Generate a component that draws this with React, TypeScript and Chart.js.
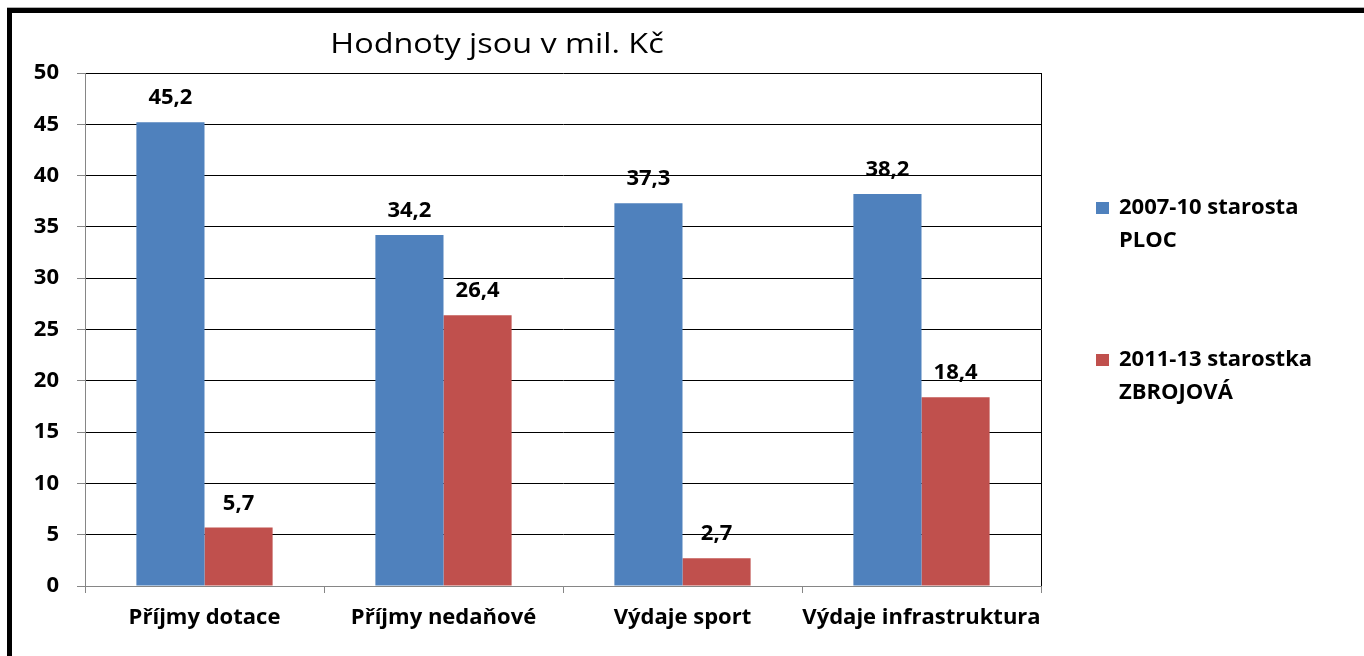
import { useEffect, useRef } from "react";
import { Chart, registerables } from "chart.js";

Chart.register(...registerables);

const titleText = "Hodnoty jsou v mil. Kč";
const categories = ["Příjmy dotace", "Příjmy nedaňové", "Výdaje sport", "Výdaje infrastruktura"];
const series1Label = ["2007-10 starosta", "PLOC"];
const series2Label = ["2011-13 starostka", "ZBROJOVÁ"];
const series1Values = [45.2, 34.2, 37.3, 38.2];
const series2Values = [5.7, 26.4, 2.7, 18.4];
const yMin = 0;
const yMax = 50;
const yStep = 5;

const BLUE = "#4F81BD";
const RED = "#C0504D";
const GRAY = "#868686";
const FONT = "'Open Sans', Lato, sans-serif";

const fmt = (v: number) => v.toFixed(1).replace(".", ",");

const decorPlugin = {
  id: "decor",
  beforeDraw(chart: any) {
    const ctx = chart.ctx;
    ctx.save();
    ctx.fillStyle = "#ffffff";
    ctx.fillRect(0, 0, chart.width, chart.height);
    ctx.fillStyle = "#b0b0b0";
    ctx.fillRect(7, 7, chart.width - 7, 1);
    ctx.fillStyle = "#000000";
    ctx.fillRect(7, 8, chart.width - 7, 5);
    ctx.fillRect(7, 8, 5, chart.height - 8);
    ctx.restore();
  },
  afterDraw(chart: any) {
    const ctx = chart.ctx;
    const a = chart.chartArea;
    ctx.save();
    // right border of plot area
    ctx.strokeStyle = "#000000";
    ctx.lineWidth = 1;
    ctx.beginPath();
    ctx.moveTo(a.right + 0.5, a.top);
    ctx.lineTo(a.right + 0.5, a.bottom);
    ctx.stroke();

    // title (slightly widened, like the reference)
    ctx.fillStyle = "#000000";
    ctx.font = `normal 27px ${FONT}`;
    ctx.textAlign = "center";
    ctx.textBaseline = "alphabetic";
    ctx.save();
    const tx = a.left + 412;
    ctx.translate(tx, a.top - 20);
    ctx.scale(1.2, 1);
    ctx.fillText(titleText, 0, 0);
    ctx.restore();

    // data labels
    ctx.font = `bold 22px ${FONT}`;
    chart.data.datasets.forEach((ds: any, di: number) => {
      const meta = chart.getDatasetMeta(di);
      meta.data.forEach((bar: any, i: number) => {
        ctx.fillText(fmt(ds.data[i]), bar.x, bar.y - 18);
      });
    });

    // legend
    ctx.textAlign = "left";
    ctx.font = `bold 22px ${FONT}`;
    const entries = [
      { color: BLUE, lines: series1Label, top: a.top + 125 },
      { color: RED, lines: series2Label, top: a.top + 277 },
    ];
    const lx = a.right + 55;
    entries.forEach((e) => {
      ctx.fillStyle = e.color;
      ctx.fillRect(lx, e.top + 4, 13, 12);
      ctx.fillStyle = "#000000";
      e.lines.forEach((t, k) => {
        ctx.fillText(t, lx + 23, e.top + 16 + k * 33);
      });
    });
    ctx.restore();
  },
};

export default function App() {
  const ref = useRef<HTMLCanvasElement>(null);
  useEffect(() => {
    if (!ref.current) return;
    const chart = new Chart(ref.current, {
      type: "bar",
      data: {
        labels: categories,
        datasets: [
          { label: series1Label.join(" "), data: series1Values, backgroundColor: BLUE },
          { label: series2Label.join(" "), data: series2Values, backgroundColor: RED },
        ],
      },
      options: {
        responsive: false,
        animation: false,
        devicePixelRatio: 1,
        layout: { padding: { top: 73, right: 323, bottom: 0, left: 0 } },
        plugins: {
          legend: { display: false },
          title: { display: false },
          tooltip: { enabled: false },
        },
        datasets: {
          bar: { categoryPercentage: 0.57, barPercentage: 1 },
        },
        scales: {
          x: {
            afterFit: (s: any) => {
              s.height = 70;
            },
            grid: {
              offset: true,
              drawOnChartArea: false,
              drawTicks: true,
              tickLength: 7,
              color: GRAY,
              tickColor: GRAY,
            },
            border: { color: GRAY, width: 1 },
            ticks: {
              color: "#000000",
              padding: 12,
              maxRotation: 0,
              autoSkip: false,
              font: { family: FONT, size: 22, weight: "bold" },
            },
          },
          y: {
            min: yMin,
            max: yMax,
            afterFit: (s: any) => {
              s.width = 85;
            },
            grid: {
              color: (c: any) => (c.tick && c.tick.value === 0 ? GRAY : "#000000"),
              tickColor: GRAY,
              tickLength: 8,
            },
            border: { color: GRAY, width: 1 },
            ticks: {
              stepSize: yStep,
              color: "#000000",
              padding: 18,
              font: { family: FONT, size: 22, weight: "bold" },
            },
          },
        },
      },
      plugins: [decorPlugin],
    } as any);
    return () => chart.destroy();
  }, []);
  return (
    <div style={{ position: "fixed", left: 0, top: 0, width: 1364, height: 656, background: "#fff" }}>
      <canvas ref={ref} width={1364} height={656} />
    </div>
  );
}
